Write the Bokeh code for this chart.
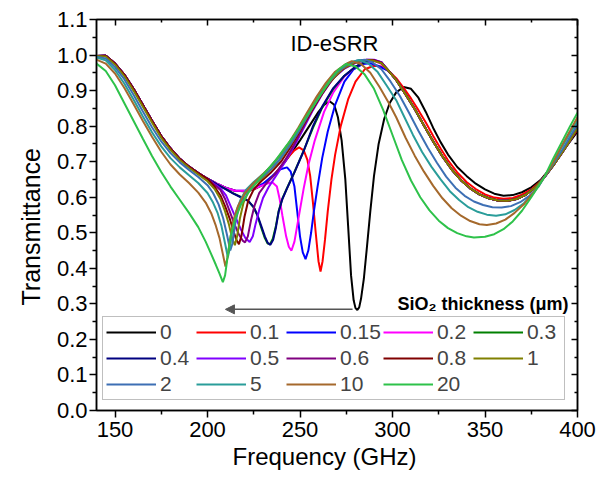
from bokeh.plotting import figure
from bokeh.models import (Range1d, LinearAxis, Legend, LegendItem, Arrow, NormalHead, Label, Title,
                          PrintfTickFormatter, FixedTicker, CustomJSTickFormatter)
from bokeh.embed import file_html
from bokeh.resources import INLINE

FONT = "Liberation Sans"

# ---------------- data ----------------
thickness_labels = ["0", "0.1", "0.15", "0.2", "0.3", "0.4", "0.5", "0.6", "0.8", "1", "2", "5", "10", "20"]
colors = ["#000000", "#FF0000", "#0000FF", "#FF00FF", "#008000", "#000080", "#8000FF",
          "#800080", "#800000", "#808000", "#3D6FB4", "#2A9D9A", "#A5692C", "#2EC24A"]

# shared start of the thin-layer curves (140-200 GHz)
left_x = [140, 145, 150, 155, 160, 165, 170, 175, 180, 185, 190, 195, 200]
left_y = [0.997, 0.998, 0.976, 0.945, 0.905, 0.86, 0.815, 0.772, 0.737, 0.708, 0.686, 0.668, 0.652]

# shared end of the thin-layer curves (298-400 GHz)
tail_x = [298, 302, 307, 312, 317, 322, 327, 332, 337, 342, 347, 352, 357, 362, 367, 372, 377, 382, 387, 392, 396, 400]
tail_y = [0.955, 0.93, 0.89, 0.848, 0.802, 0.757, 0.715, 0.678, 0.648, 0.625, 0.608, 0.597, 0.591, 0.59, 0.595, 0.607, 0.627, 0.656, 0.69, 0.728, 0.76, 0.795]

x_0 = [205, 210, 215, 220, 225, 230, 235, 240, 245, 250, 255, 260, 263, 266, 268.5, 270.5, 272.5, 274.5, 276, 277.6, 279, 280, 281, 282, 283, 284.5, 286, 288, 290, 292.5, 295.5, 298.5, 302, 306, 310, 314, 318, 322, 326, 330, 335, 340, 345, 350, 355, 360, 365, 370, 375, 380, 385, 390, 395, 400]
y_0 = [0.638, 0.626, 0.618, 0.617, 0.622, 0.635, 0.657, 0.687, 0.722, 0.76, 0.80, 0.84, 0.86, 0.87, 0.86, 0.825, 0.76, 0.65, 0.52, 0.38, 0.31, 0.288, 0.283, 0.29, 0.315, 0.37, 0.45, 0.56, 0.66, 0.75, 0.82, 0.865, 0.895, 0.91, 0.905, 0.88, 0.84, 0.795, 0.755, 0.72, 0.685, 0.66, 0.638, 0.622, 0.61, 0.604, 0.606, 0.614, 0.628, 0.648, 0.68, 0.715, 0.75, 0.785]

x_01 = [205, 210, 215, 220, 225, 230, 235, 240, 244, 247, 249.5, 252, 254, 255.5, 257, 258.5, 260, 261.1, 262.2, 263.5, 265, 267, 269, 272, 276, 280, 285, 290, 294, 298, 302, 306, 310, 314, 318, 322, 326, 330, 335, 340, 345, 350, 355, 360, 365, 370, 375, 380, 385, 390, 395, 400]
y_01 = [0.638, 0.626, 0.618, 0.617, 0.622, 0.636, 0.658, 0.688, 0.715, 0.732, 0.74, 0.732, 0.705, 0.66, 0.585, 0.50, 0.42, 0.391, 0.42, 0.48, 0.56, 0.65, 0.72, 0.80, 0.875, 0.925, 0.96, 0.97, 0.968, 0.955, 0.935, 0.908, 0.878, 0.845, 0.81, 0.772, 0.737, 0.704, 0.67, 0.643, 0.623, 0.608, 0.599, 0.596, 0.598, 0.607, 0.622, 0.645, 0.678, 0.715, 0.753, 0.79]

x_015 = [205, 210, 215, 220, 225, 230, 235, 239, 243, 245, 247, 248.5, 250, 251.5, 253, 254.5, 256, 257.5, 259.5, 262, 265, 269, 274, 279, 284, 288, 292]
y_015 = [0.638, 0.626, 0.618, 0.618, 0.624, 0.638, 0.66, 0.678, 0.684, 0.672, 0.63, 0.56, 0.49, 0.445, 0.426, 0.45, 0.50, 0.56, 0.63, 0.71, 0.785, 0.86, 0.925, 0.96, 0.975, 0.977, 0.97]

x_02 = [205, 210, 215, 220, 225, 228, 232, 235, 237.5, 239, 240.5, 242.5, 244, 245.4, 247, 248.5, 250, 252, 254.5, 258, 263, 268, 274, 280, 286, 290, 294]
y_02 = [0.638, 0.626, 0.618, 0.618, 0.624, 0.63, 0.638, 0.642, 0.63, 0.595, 0.548, 0.49, 0.46, 0.45, 0.475, 0.52, 0.565, 0.625, 0.69, 0.76, 0.84, 0.895, 0.94, 0.967, 0.982, 0.984, 0.975]

x_03 = [205, 210, 214, 218, 222, 225, 227, 229, 231, 232.5, 233.8, 235.3, 237, 238.5, 240.5, 243, 247, 252, 257, 262, 268, 274, 280, 286, 290, 294]
y_03 = [0.636, 0.623, 0.611, 0.601, 0.59, 0.571, 0.548, 0.515, 0.485, 0.47, 0.468, 0.483, 0.52, 0.562, 0.597, 0.626, 0.671, 0.731, 0.795, 0.852, 0.905, 0.942, 0.967, 0.982, 0.985, 0.978]

x_04 = [205, 210, 214, 218, 222, 225, 227, 229, 231, 232.5, 234, 235.5, 237, 238.5, 240.5, 243, 247, 252, 257, 262, 268, 274, 280, 286, 290, 294]
y_04 = [0.636, 0.622, 0.61, 0.60, 0.59, 0.572, 0.55, 0.52, 0.49, 0.472, 0.466, 0.48, 0.515, 0.56, 0.595, 0.625, 0.67, 0.73, 0.80, 0.855, 0.907, 0.942, 0.967, 0.982, 0.985, 0.98]

x_05 = [204, 207, 210, 212.5, 215, 218, 220.5, 222.8, 224.5, 226, 228, 230, 233, 237, 242, 247, 252, 257, 262, 268, 274, 280, 286, 290, 294]
y_05 = [0.636, 0.625, 0.605, 0.575, 0.545, 0.51, 0.485, 0.474, 0.49, 0.525, 0.565, 0.598, 0.628, 0.66, 0.70, 0.745, 0.795, 0.845, 0.89, 0.935, 0.962, 0.978, 0.987, 0.987, 0.98]

x_06 = [204, 207, 209.5, 212, 214.5, 217, 219, 220.3, 221.8, 223.5, 225.5, 228, 232, 237, 242, 247, 252, 257, 262, 268, 274, 280, 286, 290, 294]
y_06 = [0.634, 0.62, 0.595, 0.56, 0.525, 0.495, 0.478, 0.473, 0.49, 0.535, 0.578, 0.612, 0.64, 0.668, 0.705, 0.75, 0.80, 0.848, 0.892, 0.936, 0.963, 0.979, 0.987, 0.986, 0.979]

x_08 = [204, 207, 209.5, 212, 214, 215.8, 217, 218.3, 220, 222, 225, 229, 234, 240, 245, 250, 255, 260, 266, 272, 278, 284, 289, 294]
y_08 = [0.628, 0.605, 0.575, 0.54, 0.505, 0.478, 0.468, 0.49, 0.545, 0.59, 0.622, 0.645, 0.668, 0.702, 0.742, 0.787, 0.832, 0.876, 0.922, 0.957, 0.977, 0.986, 0.986, 0.978]

x_1 = [140, 145, 150, 155, 160, 165, 170, 175, 180, 185, 190, 195, 200, 204, 207, 209.5, 211.5, 213.3, 214.8, 216, 217.5, 219.5, 222, 226, 231, 236, 241, 246, 251, 256, 261, 267, 273, 279, 285, 289, 294]
y_1 = [0.997, 0.996, 0.973, 0.941, 0.90, 0.855, 0.81, 0.767, 0.733, 0.705, 0.683, 0.664, 0.645, 0.622, 0.595, 0.56, 0.525, 0.485, 0.465, 0.49, 0.54, 0.585, 0.615, 0.638, 0.66, 0.686, 0.718, 0.757, 0.80, 0.845, 0.888, 0.93, 0.961, 0.978, 0.986, 0.985, 0.977]

x_2 = [140, 145, 150, 155, 160, 165, 170, 175, 180, 185, 190, 195, 200, 203, 206, 208.5, 210.5, 212.3, 213.5, 215, 217, 220, 224, 229, 234, 239, 244, 249, 254, 259, 264, 270, 276, 281, 285, 289, 294, 299, 304, 309, 314, 319, 324, 329, 334, 339, 344, 349, 354, 359, 364, 369, 374, 379, 382, 387, 392, 396, 400]
y_2 = [0.995, 0.99, 0.966, 0.932, 0.888, 0.842, 0.797, 0.757, 0.724, 0.698, 0.677, 0.657, 0.634, 0.612, 0.58, 0.54, 0.495, 0.45, 0.47, 0.525, 0.573, 0.607, 0.632, 0.654, 0.677, 0.706, 0.742, 0.783, 0.828, 0.872, 0.912, 0.952, 0.975, 0.985, 0.987, 0.98, 0.96, 0.925, 0.885, 0.837, 0.787, 0.74, 0.697, 0.658, 0.627, 0.604, 0.588, 0.578, 0.572, 0.571, 0.575, 0.586, 0.604, 0.63, 0.656, 0.695, 0.735, 0.77, 0.805]

x_5 = [140, 145, 150, 155, 160, 165, 170, 175, 180, 185, 190, 195, 200, 203, 205.5, 207.5, 209.5, 211, 212.2, 213.5, 215.5, 218, 221, 225, 230, 235, 240, 245, 250, 255, 260, 265, 270, 276, 282, 287, 292, 297, 302, 306, 311, 316, 321, 326, 331, 336, 341, 346, 351, 356, 361, 366, 371, 376, 382, 387, 392, 396, 400]
y_5 = [0.993, 0.985, 0.958, 0.92, 0.875, 0.828, 0.783, 0.743, 0.71, 0.684, 0.662, 0.64, 0.612, 0.585, 0.555, 0.52, 0.47, 0.431, 0.46, 0.51, 0.56, 0.595, 0.622, 0.643, 0.665, 0.69, 0.72, 0.757, 0.80, 0.845, 0.888, 0.926, 0.955, 0.978, 0.986, 0.976, 0.952, 0.913, 0.873, 0.83, 0.776, 0.727, 0.686, 0.65, 0.617, 0.592, 0.572, 0.559, 0.551, 0.548, 0.552, 0.564, 0.583, 0.61, 0.656, 0.70, 0.745, 0.78, 0.815]

x_10 = [140, 145, 150, 155, 160, 165, 170, 175, 180, 185, 190, 195, 199, 202, 204.5, 206.5, 208.3, 209.7, 210.8, 212, 214, 216.5, 220, 224, 229, 234, 239, 244, 249, 254, 259, 264, 269, 274, 278, 283, 288, 293, 298, 302, 307, 312, 317, 322, 327, 332, 337, 342, 347, 351, 356, 361, 366, 371, 376, 382, 387, 392, 396, 400]
y_10 = [0.987, 0.976, 0.948, 0.908, 0.862, 0.815, 0.77, 0.728, 0.692, 0.664, 0.64, 0.613, 0.585, 0.555, 0.52, 0.485, 0.44, 0.405, 0.43, 0.475, 0.535, 0.575, 0.61, 0.635, 0.66, 0.686, 0.717, 0.753, 0.795, 0.84, 0.883, 0.922, 0.953, 0.972, 0.983, 0.975, 0.95, 0.91, 0.865, 0.825, 0.768, 0.717, 0.672, 0.632, 0.597, 0.569, 0.548, 0.533, 0.524, 0.522, 0.526, 0.537, 0.556, 0.58, 0.612, 0.656, 0.70, 0.75, 0.787, 0.825]

x_20 = [140, 145, 150, 155, 160, 165, 170, 175, 180, 185, 190, 195, 199, 202, 204.5, 206.5, 208.3, 209.5, 210.8, 212.5, 215, 218, 222, 227, 232, 237, 242, 247, 252, 257, 262, 267, 271, 275, 280, 285, 290, 295, 300, 305, 310, 315, 320, 325, 330, 335, 340, 344, 350, 355, 360, 365, 370, 375, 382, 387, 392, 396, 400]
y_20 = [0.976, 0.955, 0.915, 0.865, 0.815, 0.765, 0.716, 0.671, 0.63, 0.593, 0.556, 0.516, 0.475, 0.44, 0.41, 0.385, 0.361, 0.38, 0.43, 0.49, 0.54, 0.578, 0.612, 0.645, 0.675, 0.705, 0.74, 0.775, 0.815, 0.855, 0.895, 0.935, 0.96, 0.975, 0.968, 0.945, 0.905, 0.845, 0.775, 0.705, 0.647, 0.60, 0.563, 0.534, 0.513, 0.499, 0.49, 0.487, 0.489, 0.496, 0.51, 0.532, 0.562, 0.60, 0.656, 0.71, 0.76, 0.80, 0.838]

x_ticks = [150, 200, 250, 300, 350, 400]
x_minor = [175, 225, 275, 325, 375]
y_ticks = [0.0, 0.1, 0.2, 0.3, 0.4, 0.5, 0.6, 0.7, 0.8, 0.9, 1.0, 1.1]
y_minor = [0.05, 0.15, 0.25, 0.35, 0.45, 0.55, 0.65, 0.75, 0.85, 0.95, 1.05]

# assemble full curves (thin layers share the common start/end segments)
series_x = [
    left_x + x_0,
    left_x + x_01,
    left_x + x_015 + tail_x,
    left_x + x_02 + tail_x,
    left_x + x_03 + tail_x,
    left_x + x_04 + tail_x,
    left_x + x_05 + tail_x,
    left_x + x_06 + tail_x,
    left_x + x_08 + tail_x,
    x_1 + tail_x,
    x_2, x_5, x_10, x_20,
]
series_y = [
    left_y + y_0,
    left_y + y_01,
    left_y + y_015 + tail_y,
    left_y + y_02 + tail_y,
    left_y + y_03 + tail_y,
    left_y + y_04 + tail_y,
    left_y + y_05 + tail_y,
    left_y + y_06 + tail_y,
    left_y + y_08 + tail_y,
    y_1 + tail_y,
    y_2, y_5, y_10, y_20,
]

# ---------------- figure ----------------
p = figure(width=596, height=477, output_backend="svg", toolbar_location=None,
           x_range=Range1d(140, 400), y_range=Range1d(0, 1.1),
           min_border_left=96, min_border_right=19, min_border_top=19, min_border_bottom=67)
p.background_fill_color = "white"
p.border_fill_color = "white"
p.outline_line_color = "black"
p.outline_line_width = 1.5
p.xgrid.visible = False
p.ygrid.visible = False

for ax in (p.xaxis[0], p.yaxis[0]):
    ax.axis_line_width = 1.5
    ax.major_tick_line_width = 1.5
    ax.minor_tick_line_width = 1.5
    ax.major_tick_in = 0
    ax.major_tick_out = 7
    ax.minor_tick_in = 0
    ax.minor_tick_out = 4
    ax.major_label_text_font = FONT
    ax.major_label_text_font_size = "22px"
    ax.major_label_text_color = "black"

p.xaxis[0].ticker = FixedTicker(ticks=x_ticks, minor_ticks=x_minor)
p.yaxis[0].ticker = FixedTicker(ticks=y_ticks, minor_ticks=y_minor)
p.yaxis[0].formatter = PrintfTickFormatter(format="%.1f")
p.xaxis[0].major_label_standoff = 4
p.yaxis[0].major_label_standoff = 2

blank = CustomJSTickFormatter(code="return ''")
top = LinearAxis(ticker=FixedTicker(ticks=x_ticks, minor_ticks=x_minor), formatter=blank,
                 major_label_text_font_size="8px", major_tick_in=6, major_tick_out=0,
                 minor_tick_in=3, minor_tick_out=0, axis_line_width=1.5,
                 major_tick_line_width=1.5, minor_tick_line_width=1.5, major_label_standoff=0)
right = LinearAxis(ticker=FixedTicker(ticks=y_ticks, minor_ticks=y_minor), formatter=blank,
                   major_label_text_font_size="8px", major_tick_in=6, major_tick_out=0,
                   minor_tick_in=3, minor_tick_out=0, axis_line_width=1.5,
                   major_tick_line_width=1.5, minor_tick_line_width=1.5, major_label_standoff=0)
p.add_layout(top, "above")
p.add_layout(right, "right")

# axis titles as side titles (slightly off-centre, as in the reference)
p.add_layout(Title(text="Frequency (GHz)", align="left", offset=136, standoff=2,
                   text_font=FONT, text_font_size="24px", text_font_style="normal",
                   text_color="black"), "below")
p.add_layout(Title(text="Transmittance", align="left", offset=105, standoff=18,
                   text_font=FONT, text_font_size="25px", text_font_style="normal",
                   text_color="black"), "left")

items = []
for lab, col, xs, ys in zip(thickness_labels, colors, series_x, series_y):
    r = p.line(xs, ys, line_color=col, line_width=2)
    items.append(LegendItem(label=lab, renderers=[r]))

legend = Legend(items=items, orientation="horizontal", ncols=5, location=(6, 10),
                label_text_font=FONT, label_text_font_size="21px",
                glyph_width=50, glyph_height=24, label_height=24, label_width=34,
                label_standoff=4, spacing=2, padding=3, margin=0,
                border_line_color="#808080", border_line_width=1.5,
                background_fill_color="white", background_fill_alpha=1.0)
p.add_layout(legend)

p.add_layout(Label(x=268.6, y=1.032, text="ID-eSRR", text_font=FONT, text_font_size="22px",
                   text_align="center", text_baseline="middle", text_color="black"))
p.add_layout(Label(x=302.7, y=0.30, text="SiO\u2082 thickness (\u03bcm)", text_font=FONT,
                   text_font_size="18px", text_font_style="bold",
                   text_align="left", text_baseline="middle", text_color="black"))
p.add_layout(Arrow(end=NormalHead(size=9, fill_color="#555555", line_color="#555555"),
                   x_start=278.4, y_start=0.2845, x_end=209.7, y_end=0.2845,
                   line_color="#555555", line_width=1.5))

open("out.html", "w").write(file_html(p, INLINE))
